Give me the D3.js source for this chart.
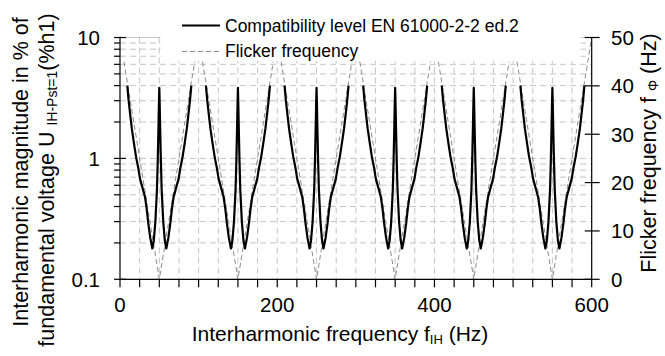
<!DOCTYPE html>
<html>
<head>
<meta charset="utf-8">
<script src="https://cdn.jsdelivr.net/npm/d3@7"></script>
<style>
  body { margin: 0; background: #fff; }
  svg { display: block; font-family: "Liberation Sans", Arial, sans-serif; }
</style>
</head>
<body>
<svg width="665" height="356"></svg>
<script>
// tick values
const xTickLabels = [0, 200, 400, 600];
const xTickStep = 25;
const leftTickLabels = [0.1, 1, 10];
const rightTickLabels = [0, 10, 20, 30, 40, 50];

// odd harmonics the interharmonic curve is mirrored around (Hz)
const harmonicCentres = [50, 150, 250, 350, 450, 550];

// compatibility level, as a function of flicker frequency
const profileFlicker = [40.7, 39, 37, 35, 32, 29.6, 27, 24.6, 21, 18.2, 16, 14, 11.5, 8.9, 7, 5, 3, 2, 1, 0.5, 0];
const profileLevel = [4.0, 3.0, 2.3, 1.77, 1.3, 1.03, 0.85, 0.68, 0.56, 0.48, 0.38, 0.29, 0.22, 0.18, 0.21, 0.3, 0.55, 0.95, 1.9, 2.8, 3.84];

// flicker frequency line vertices (interharmonic Hz, flicker Hz)
const flickerIH = [5, 50, 95, null, 105, 150, 195, null, 205, 250, 295, null, 305, 350, 395, null, 405, 450, 495, null, 505, 550, 600];
const flickerHz = [45, 0, 45, null, 45, 0, 45, null, 45, 0, 45, null, 45, 0, 45, null, 45, 0, 45, null, 45, 0, 50];

const GRID_COLOR = "#c4c4c4";
const FLICKER_COLOR = "#8c8c8c";

let svg = d3.select("svg");

const plot = { left: 120, right: 591.7, top: 37.5, bottom: 279.3 };

let x = d3.scaleLinear().domain([0, 600]).range([plot.left, plot.right]);
let yLeft = d3.scaleLog().domain([0.1, 10]).range([plot.bottom, plot.top]);
let yRight = d3.scaleLinear().domain([0, 50]).range([plot.bottom, plot.top]);

// build the solid curve: each harmonic gets the profile on both sides
let levelPoints = [];
harmonicCentres.forEach((c, k) => {
  if (k > 0) levelPoints.push(null);
  profileFlicker.forEach((d, i) => levelPoints.push({ f: c - d, u: profileLevel[i] }));
  for (let i = profileFlicker.length - 2; i >= 0; i--) {
    levelPoints.push({ f: c + profileFlicker[i], u: profileLevel[i] });
  }
});

let flickerPoints = flickerIH.map((f, i) => (f === null ? null : { f: f, v: flickerHz[i] }));

//////////// GRID ////////////
const minorLog = [];
[0.1, 1].forEach((dec) => {
  for (let m = 1; m < 10; m++) minorLog.push(dec * m);
});
minorLog.push(10);

svg.append("g")
  .selectAll("line")
  .data(minorLog)
  .enter()
  .append("line")
  .attr("x1", plot.left)
  .attr("x2", plot.right)
  .attr("y1", (d) => yLeft(d))
  .attr("y2", (d) => yLeft(d))
  .attr("stroke", GRID_COLOR)
  .attr("stroke-width", 1)
  .attr("stroke-dasharray", (d) => (d === 10 ? null : "6,4"));

svg.append("g")
  .selectAll("line")
  .data(d3.range(xTickStep, 600, xTickStep))
  .enter()
  .append("line")
  .attr("x1", (d) => x(d))
  .attr("x2", (d) => x(d))
  .attr("y1", plot.top)
  .attr("y2", plot.bottom)
  .attr("stroke", GRID_COLOR)
  .attr("stroke-width", 1)
  .attr("stroke-dasharray", "6,4");

//////////// SERIES ////////////
svg.append("path")
  .datum(flickerPoints)
  .attr("fill", "none")
  .attr("stroke", FLICKER_COLOR)
  .attr("stroke-width", 1)
  .attr("stroke-dasharray", "5,3")
  .attr("d", d3.line().defined((d) => d !== null).x((d) => x(d.f)).y((d) => yRight(d.v)));

svg.append("path")
  .datum(levelPoints)
  .attr("fill", "none")
  .attr("stroke", "black")
  .attr("stroke-width", 2.2)
  .attr("stroke-linejoin", "round")
  .attr("d", d3.line().defined((d) => d !== null).x((d) => x(d.f)).y((d) => yLeft(d.u)));

//////////// AXES ////////////
const axes = svg.append("g").attr("stroke", "black").attr("stroke-width", 1.2);

axes.append("line").attr("x1", plot.left).attr("x2", plot.left).attr("y1", plot.top).attr("y2", plot.bottom);
axes.append("line").attr("x1", plot.right).attr("x2", plot.right).attr("y1", plot.top).attr("y2", plot.bottom);
axes.append("line").attr("x1", plot.left).attr("x2", plot.right).attr("y1", plot.bottom).attr("y2", plot.bottom);

// left ticks, major cross the axis
axes.selectAll(".ltick")
  .data(minorLog)
  .enter()
  .append("line")
  .attr("class", "ltick")
  .attr("x1", plot.left - 6)
  .attr("x2", (d) => (leftTickLabels.includes(+d.toFixed(2)) ? plot.left + 6 : plot.left))
  .attr("y1", (d) => yLeft(d))
  .attr("y2", (d) => yLeft(d));

// right ticks
axes.selectAll(".rtick")
  .data(rightTickLabels)
  .enter()
  .append("line")
  .attr("class", "rtick")
  .attr("x1", plot.right - 7)
  .attr("x2", plot.right + 8)
  .attr("y1", (d) => yRight(d))
  .attr("y2", (d) => yRight(d));

// bottom ticks
axes.selectAll(".btick")
  .data(d3.range(0, 601, xTickStep))
  .enter()
  .append("line")
  .attr("class", "btick")
  .attr("x1", (d) => x(d))
  .attr("x2", (d) => x(d))
  .attr("y1", plot.bottom)
  .attr("y2", plot.bottom + 8);

// tick labels
svg.append("g")
  .selectAll("text")
  .data(leftTickLabels)
  .enter()
  .append("text")
  .attr("x", 100)
  .attr("y", (d) => yLeft(d))
  .attr("dy", "0.36em")
  .attr("text-anchor", "end")
  .attr("font-size", 20.5)
  .text((d) => d);

svg.append("g")
  .selectAll("text")
  .data(rightTickLabels)
  .enter()
  .append("text")
  .attr("x", 611)
  .attr("y", (d) => yRight(d))
  .attr("dy", "0.36em")
  .attr("font-size", 20.5)
  .text((d) => d);

svg.append("g")
  .selectAll("text")
  .data(xTickLabels)
  .enter()
  .append("text")
  .attr("x", (d) => x(d))
  .attr("y", 312)
  .attr("text-anchor", "middle")
  .attr("font-size", 20.5)
  .text((d) => d);

//////////// TITLES ////////////
let xTitle = svg.append("text")
  .attr("x", 340)
  .attr("y", 341)
  .attr("text-anchor", "middle")
  .attr("font-size", 21);
xTitle.append("tspan").text("Interharmonic frequency f");
xTitle.append("tspan").attr("font-size", 13).attr("dy", 3).text("IH");
xTitle.append("tspan").attr("dy", -3).text(" (Hz)");

let yTitle1 = svg.append("text")
  .attr("transform", "translate(28,172) rotate(-90)")
  .attr("text-anchor", "middle")
  .attr("font-size", 21.5)
  .text("Interharmonic magnitude in % of");

let yTitle2 = svg.append("text")
  .attr("transform", "translate(54,180) rotate(-90)")
  .attr("text-anchor", "middle")
  .attr("font-size", 21.5);
yTitle2.append("tspan").text("fundamental voltage U ");
yTitle2.append("tspan").attr("font-size", 14).attr("dy", 3).text("IH-Pst=1");
yTitle2.append("tspan").attr("dy", -3).text("(%h1)");

let rTitle = svg.append("text")
  .attr("transform", "translate(656,153) rotate(-90)")
  .attr("text-anchor", "middle")
  .attr("font-size", 21.5);
rTitle.append("tspan").text("Flicker frequency f ");
rTitle.append("tspan").attr("font-size", 14).attr("dy", 2).text("Φ");
rTitle.append("tspan").attr("dy", -2).text(" (Hz)");

//////////// LEGEND ////////////
let legend = svg.append("g");
legend.append("rect")
  .attr("x", 160.5)
  .attr("y", 0)
  .attr("width", 420)
  .attr("height", 61)
  .attr("fill", "white");

legend.append("line")
  .attr("x1", 182).attr("x2", 220)
  .attr("y1", 25.5).attr("y2", 25.5)
  .attr("stroke", "black").attr("stroke-width", 2.2);
legend.append("line")
  .attr("x1", 182).attr("x2", 220)
  .attr("y1", 51.5).attr("y2", 51.5)
  .attr("stroke", FLICKER_COLOR).attr("stroke-width", 1)
  .attr("stroke-dasharray", "5,3");

legend.append("text").attr("x", 225).attr("y", 31.5).attr("font-size", 17.5)
  .text("Compatibility level EN 61000-2-2 ed.2");
legend.append("text").attr("x", 225).attr("y", 57).attr("font-size", 17.5)
  .text("Flicker frequency");
</script>
</body>
</html>
